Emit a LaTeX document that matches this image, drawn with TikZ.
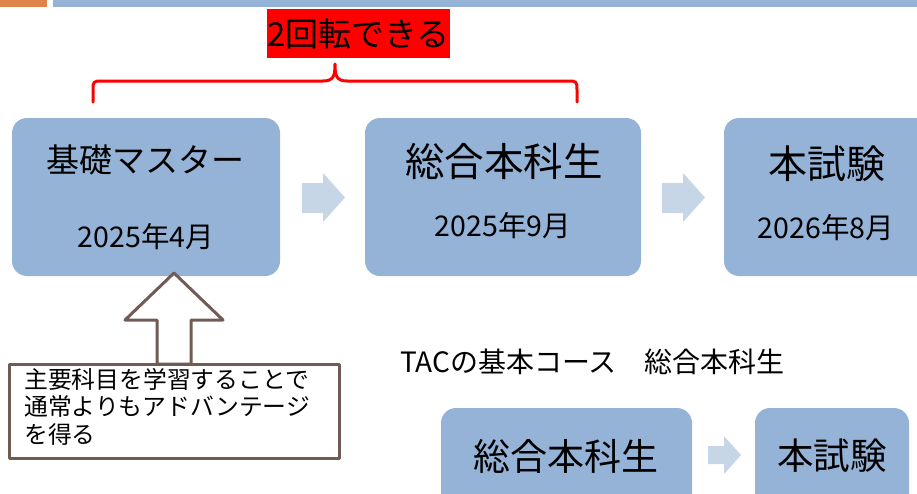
\documentclass[tikz,border=0pt]{standalone}
\usepackage{fontspec}
\setmainfont{Noto Sans CJK JP}
\definecolor{boxblue}{RGB}{149,179,215}
\definecolor{lightarrow}{RGB}{198,214,230}
\definecolor{brownline}{RGB}{112,92,84}
\definecolor{topor}{RGB}{224,131,74}
\begin{document}
\begin{tikzpicture}[x=1pt,y=-1pt,
  bluebox/.style={fill=boxblue,rounded corners=15pt,draw=none},
  lbl/.style={inner sep=0pt,anchor=center,text=black},
  blockarrow/.style={fill=lightarrow,draw=none}]
\useasboundingbox (0,0) rectangle (917,493);
\clip (0,0) rectangle (917,493);
% top bars
\fill[topor] (0,0) rectangle (47,7);
\fill[boxblue] (53,0) rectangle (917,7);
% red label
\node[fill=red,inner sep=0pt,minimum width=181pt,minimum height=49pt,font=\fontsize{33}{35}\selectfont] (rot) at (358.5,33.5) {2回転できる};
% brace
\draw[red,line width=3pt,line cap=round,line join=round]
  (93,102) -- (93,91) .. controls (93,81) .. (103,81) -- (323,81)
  .. controls (334,81) and (335,75) .. (335,64)
  .. controls (335,75) and (336,81) .. (347,81) -- (567,81)
  .. controls (577,81) .. (577,91) -- (577,102);
% boxes
\path[bluebox] (12,118) rectangle (280,276);
\node[lbl,font=\fontsize{33}{35}\selectfont] (b1t) at (145,160) {基礎マスター};
\node[lbl,font=\fontsize{28.5}{30}\selectfont] (b1d) at (146,237) {2025年4月};
\path[bluebox] (365,118) rectangle (641,276);
\node[lbl,font=\fontsize{39.5}{42}\selectfont] (b2t) at (504,161) {総合本科生};
\node[lbl,font=\fontsize{28.5}{30}\selectfont] (b2d) at (503,226) {2025年9月};
\path[bluebox] (724,118) rectangle (940,276);
\node[lbl,font=\fontsize{39}{42}\selectfont] (b3t) at (827,164) {本試験};
\node[lbl,font=\fontsize{28.5}{30}\selectfont] (b3d) at (826,228) {2026年8月};
% light arrows
\path[blockarrow] (302,183) -- (323,183) -- (323,173) -- (345,197.5) -- (323,222) -- (323,213) -- (302,213) -- cycle;
\path[blockarrow] (662,183) -- (683,183) -- (683,173) -- (705,197.5) -- (683,222) -- (683,213) -- (662,213) -- cycle;
% up arrow
\draw[brownline,fill=white,line width=3pt,line join=round]
  (174,273) -- (223,320) -- (191,320) -- (191,364) -- (157,364) -- (157,320) -- (125,320) -- cycle;
\draw[brownline,fill=white,line width=3pt,line join=round] (9,364) rectangle (339,458);
\node[anchor=north west,inner sep=0pt,align=left,font=\fontsize{23.8}{27.5}\selectfont] (note) at (24,368)
  {主要科目を学習することで\\通常よりもアドバンテージ\\を得る};
% bottom section
\node[anchor=west,inner sep=0pt,font=\fontsize{28}{30}\selectfont] (tac) at (400,362) {TACの基本コース　総合本科生};
\path[bluebox] (441,408) rectangle (692,520);
\node[lbl,font=\fontsize{37}{40}\selectfont] (b4t) at (566,456) {総合本科生};
\path[bluebox] (755,408) rectangle (909,520);
\node[lbl,font=\fontsize{36.5}{39}\selectfont] (b5t) at (832,456) {本試験};
\path[blockarrow] (708,446) -- (724,446) -- (724,436) -- (741,455) -- (724,474) -- (724,464) -- (708,464) -- cycle;
\end{tikzpicture}
\end{document}
